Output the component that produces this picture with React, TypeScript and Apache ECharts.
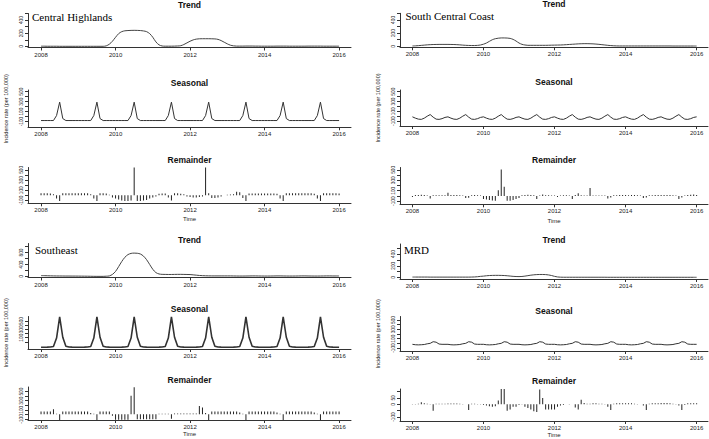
import React, { useEffect, useRef } from "react";
import * as echarts from "echarts";

// monthly time stamps 2008.0 .. 2016.0
const months: number[] = Array.from({ length: 97 }, (_, i) => 2008 + i / 12);
const yearTicks = [2008, 2010, 2012, 2014, 2016];

// ---------- Central Highlands ----------
const chTrend = [
  5, 5, 4, 4, 4, 4, 3, 3, 3, 3, 3, 3,
  3, 3, 3, 3, 3, 3, 3, 3, 3, 10, 35, 80,
  140, 195, 225, 238, 242, 244, 245, 244, 242, 236, 225, 195,
  140, 70, 25, 8, 5, 5, 5, 6, 8, 12, 30, 55,
  80, 100, 112, 117, 118, 118, 118, 117, 115, 108, 90, 65,
  40, 20, 10, 6, 6, 6, 7, 7, 7, 6, 6, 5,
  5, 5, 5, 5, 6, 6, 6, 6, 5, 5, 5, 5,
  5, 5, 6, 6, 6, 6, 6, 5, 5, 5, 5, 5,
  5,
];
const chSeasonal = [
  -80, -80, -80, -80, -80, 20, 290, -40, -80, -80, -80, -80,
  -80, -80, -80, -80, -80, 20, 290, -40, -80, -80, -80, -80,
  -80, -80, -80, -80, -80, 20, 290, -40, -80, -80, -80, -80,
  -80, -80, -80, -80, -80, 20, 290, -40, -80, -80, -80, -80,
  -80, -80, -80, -80, -80, 20, 290, -40, -80, -80, -80, -80,
  -80, -80, -80, -80, -80, 20, 290, -40, -80, -80, -80, -80,
  -80, -80, -80, -80, -80, 20, 290, -40, -80, -80, -80, -80,
  -80, -80, -80, -80, -80, 20, 290, -40, -80, -80, -80, -80,
  -80,
];
const chRemainder = [
  40, 40, 40, 35, 20, -60, -110, 40, 40, 40, 40, 40,
  40, 40, 40, 40, 20, -60, -110, 40, 40, 35, 10, -40,
  -60, -80, -100, -110, -110, -100, 570, -110, -110, -100, -90, -60,
  -40, -20, 30, 35, 35, -40, -100, 40, 40, 30, 20, -20,
  -30, -40, -40, -30, -20, 570, 40, -50, -50, -40, -20, 0,
  10, 15, 20, 70, 60, -50, -110, 35, 35, 35, 35, 35,
  35, 35, 35, 35, 30, -60, -110, 40, 40, 40, 40, 40,
  40, 40, 40, 40, 30, -60, -110, 40, 40, 40, 40, 40,
  35,
];

// ---------- South Central Coast ----------
const sccTrend = [
  5, 7, 10, 14, 18, 22, 25, 27, 28, 29, 29, 29,
  29, 28, 27, 25, 22, 18, 15, 13, 12, 12, 14, 20,
  32, 50, 75, 100, 115, 123, 127, 127, 125, 120, 105, 80,
  50, 30, 20, 15, 15, 15, 15, 15, 15, 15, 16, 17,
  18, 19, 20, 22, 25, 28, 31, 34, 37, 39, 40, 40,
  39, 37, 34, 30, 25, 20, 15, 11, 8, 6, 5, 5,
  5, 5, 5, 5, 5, 5, 5, 5, 5, 5, 5, 5,
  5, 5, 5, 5, 4, 4, 4, 4, 4, 4, 4, 4,
  4,
];
const sccSeasonal = [
  -13, -40, -60, -65, -40, 0, 33, -20, -60, -65, -50, -25,
  -13, -40, -60, -65, -40, 0, 33, -20, -60, -65, -50, -25,
  -13, -40, -60, -65, -40, 0, 33, -20, -60, -65, -50, -25,
  -13, -40, -60, -65, -40, 0, 33, -20, -60, -65, -50, -25,
  -13, -40, -60, -65, -40, 0, 33, -20, -60, -65, -50, -25,
  -13, -40, -60, -65, -40, 0, 33, -20, -60, -65, -50, -25,
  -13, -40, -60, -65, -40, 0, 33, -20, -60, -65, -50, -25,
  -13, -40, -60, -65, -40, 0, 33, -20, -60, -65, -50, -25,
  -13,
];
const sccRemainder = [
  -20, 20, 20, 25, 20, 10, -50, 15, 15, 15, 15, 15,
  60, 20, 20, 20, 15, 10, -40, -35, 15, 20, 15, 10,
  -60, -70, -80, -85, -90, 110, 506, 175, -90, -90, -80, -60,
  -40, 15, 20, 25, 20, 15, -60, 10, 30, 15, 15, 10,
  10, -20, 10, 15, 15, 10, -60, 20, 50, 15, 10, 10,
  150, 10, 10, 10, 10, 10, -50, -30, 15, 15, 20, 20,
  20, 15, 20, 20, 15, 10, -40, -30, 15, 15, 20, 20,
  20, 20, 20, 20, 15, 10, -60, -30, 10, 20, 25, 30,
  20,
];

// ---------- Southeast ----------
const seTrend = [
  30, 28, 25, 22, 20, 18, 17, 16, 15, 15, 14, 14,
  13, 12, 11, 10, 8, 6, 5, 5, 5, 10, 20, 70,
  170, 330, 500, 640, 730, 770, 780, 775, 750, 680, 560, 400,
  240, 130, 85, 72, 70, 68, 68, 70, 72, 72, 70, 68,
  65, 55, 45, 35, 28, 24, 22, 20, 20, 20, 20, 20,
  20, 20, 18, 16, 15, 15, 16, 18, 20, 20, 18, 16,
  15, 15, 16, 18, 20, 20, 18, 16, 15, 15, 16, 18,
  20, 20, 18, 16, 15, 15, 16, 18, 20, 20, 18, 18,
  18,
];
const seSeasonal = [
  -130, -130, -128, -124, -112, 90, 600, 110, -105, -125, -128, -130,
  -130, -130, -128, -124, -112, 90, 600, 110, -105, -125, -128, -130,
  -130, -130, -128, -124, -112, 90, 600, 110, -105, -125, -128, -130,
  -130, -130, -128, -124, -112, 90, 600, 110, -105, -125, -128, -130,
  -130, -130, -128, -124, -112, 90, 600, 110, -105, -125, -128, -130,
  -130, -130, -128, -124, -112, 90, 600, 110, -105, -125, -128, -130,
  -130, -130, -128, -124, -112, 90, 600, 110, -105, -125, -128, -130,
  -130, -130, -128, -124, -112, 90, 600, 110, -105, -125, -128, -130,
  -130,
];
const seRemainder = [
  60, 60, 60, 60, 110, 10, -125, 60, 60, 60, 60, 60,
  60, 60, 60, 60, 30, 10, -125, 60, 60, 60, 60, -30,
  -120, -120, -120, -120, -120, 410, 594, -110, -110, -110, -110, -110,
  -110, -110, 10, 10, 10, 10, -100, 20, 20, 20, 20, 20,
  20, 20, 20, 183, 150, 30, -125, 60, 60, 60, 60, 60,
  60, 60, 60, 60, 40, 10, -125, 60, 60, 60, 60, 60,
  60, 60, 60, 60, 40, 10, -125, 60, 60, 60, 60, 60,
  60, 60, 60, 60, 40, 10, -125, 60, 60, 60, 60, 60,
  60,
];

// ---------- MRD ----------
const mrdTrend = [
  8, 8, 8, 8, 8, 8, 7, 7, 7, 7, 7, 7,
  7, 7, 7, 7, 7, 7, 7, 7, 8, 10, 14, 20,
  24, 30, 34, 36, 37, 37, 36, 34, 30, 25, 20, 17,
  16, 18, 24, 32, 40, 46, 50, 52, 52, 50, 44, 34,
  20, 10, 6, 5, 5, 5, 5, 5, 5, 5, 5, 5,
  5, 5, 5, 5, 5, 5, 4, 4, 4, 4, 4, 4,
  4, 4, 4, 4, 4, 4, 4, 4, 4, 4, 4, 4,
  4, 4, 4, 4, 4, 4, 4, 4, 4, 4, 4, 4,
  4,
];
const mrdSeasonal = [
  -21, -30, -33, -30, -25, -10, 0, 35, 25, -15, -21, -21,
  -21, -30, -33, -30, -25, -10, 0, 35, 25, -15, -21, -21,
  -21, -30, -33, -30, -25, -10, 0, 35, 25, -15, -21, -21,
  -21, -30, -33, -30, -25, -10, 0, 35, 25, -15, -21, -21,
  -21, -30, -33, -30, -25, -10, 0, 35, 25, -15, -21, -21,
  -21, -30, -33, -30, -25, -10, 0, 35, 25, -15, -21, -21,
  -21, -30, -33, -30, -25, -10, 0, 35, 25, -15, -21, -21,
  -21, -30, -33, -30, -25, -10, 0, 35, 25, -15, -21, -21,
  -21,
];
const mrdRemainder = [
  2, 3, 5, 17, 8, 5, 3, -50, 5, 5, 5, 5,
  6, 6, 6, 6, 5, 3, 0, -45, 5, 5, 3, 2,
  -5, -10, -15, -20, -15, 30, 120, 120, -50, -40, -20, -20,
  -5, 3, -20, -30, -40, -55, -60, 117, 50, -40, -40, -40,
  -40, -20, -10, -5, 0, 2, 0, -25, -40, 35, 10, 5,
  5, 8, 8, 5, 5, 3, -20, -45, 5, 8, 8, 8,
  8, 8, 8, 5, 3, 0, -10, -45, 5, 8, 8, 8,
  10, 10, 10, 8, 5, 3, -10, -45, -5, 8, 8, 8,
  8,
];

// axis tick values / tick labels
const trendTicks = [0, 100, 200, 300, 400, 500];
const trendLabels = [0, 200, 400];
const seTrendTicks = [0, 200, 400, 600, 800, 1000];
const seTrendLabels = [0, 400, 800];
const seasTicks = [-100, 0, 100, 200, 300, 400, 500];
const seasLabels = [-100, 100, 300, 500];
const remTicks = [-100, 0, 100, 200, 300, 400, 500];
const remLabels = [-100, 100, 300, 500];
const mrdRemTicks = [-100, -50, 0, 50, 100];
const mrdRemLabels = [-100, 0, 50];

const regionNames = ["Central Highlands", "South Central Coast", "Southeast", "MRD"];
const yName = "Incidence rate (per 100,000)";

// ---------- layout (pixels) ----------
const COLS = [
  { left: 28, width: 323, cx: 189.5 },
  { left: 400, width: 308, cx: 554 },
];
const X_MIN = 2007.65;
const X_MAX = 2016.32;

type Panel = {
  col: number; top: number; h: number; yMin: number; yMax: number;
  ticks: number[]; labels: number[]; data: number[]; kind: "trend" | "line" | "bar";
  title: string; titleY: number; yName?: string; xName?: string; xNameGap?: number; lw?: number;
};

const panels: Panel[] = [
  { col: 0, top: 13.5, h: 34, yMin: -15, yMax: 500, ticks: trendTicks, labels: trendLabels, data: chTrend, kind: "trend", title: "Trend", titleY: 4.5 },
  { col: 0, top: 90, h: 37.3, yMin: -216, yMax: 534, ticks: seasTicks, labels: seasLabels, data: chSeasonal, kind: "line", title: "Seasonal", titleY: 83, yName },
  { col: 0, top: 167.5, h: 35.8, yMin: -155, yMax: 545, ticks: remTicks, labels: remLabels, data: chRemainder, kind: "bar", title: "Remainder", titleY: 160, xName: "Time", xNameGap: 12.5 },
  { col: 0, top: 243.5, h: 34, yMin: -33, yMax: 1100, ticks: seTrendTicks, labels: seTrendLabels, data: seTrend, kind: "trend", title: "Trend", titleY: 240 },
  { col: 0, top: 316.5, h: 32.5, yMin: -172, yMax: 608, ticks: seasTicks, labels: seasLabels, data: seSeasonal, kind: "line", title: "Seasonal", titleY: 309, yName, lw: 1.6 },
  { col: 0, top: 387, h: 33, yMin: -125, yMax: 600, ticks: remTicks, labels: remLabels, data: seRemainder, kind: "bar", title: "Remainder", titleY: 380, xName: "Time", xNameGap: 10.5 },
  { col: 1, top: 13.3, h: 34, yMin: -15, yMax: 500, ticks: trendTicks, labels: trendLabels, data: sccTrend, kind: "trend", title: "Trend", titleY: 3.5 },
  { col: 1, top: 90, h: 36, yMin: -200, yMax: 534, ticks: seasTicks, labels: seasLabels, data: sccSeasonal, kind: "line", title: "Seasonal", titleY: 82.3, yName },
  { col: 1, top: 167.5, h: 36.8, yMin: -160, yMax: 545, ticks: remTicks, labels: remLabels, data: sccRemainder, kind: "bar", title: "Remainder", titleY: 160, xName: "Time", xNameGap: 13.5 },
  { col: 1, top: 244, h: 35, yMin: -25, yMax: 570, ticks: trendTicks, labels: trendLabels, data: mrdTrend, kind: "trend", title: "Trend", titleY: 240 },
  { col: 1, top: 316.5, h: 34.5, yMin: -164, yMax: 575, ticks: seasTicks, labels: seasLabels, data: mrdSeasonal, kind: "line", title: "Seasonal", titleY: 310.7, yName },
  { col: 1, top: 389, h: 33.5, yMin: -131, yMax: 120, ticks: mrdRemTicks, labels: mrdRemLabels, data: mrdRemainder, kind: "bar", title: "Remainder", titleY: 381, xName: "Time", xNameGap: 11 },
];

const regionPos = [
  { x: 32, y: 17 },
  { x: 405.5, y: 16 },
  { x: 35, y: 250 },
  { x: 404, y: 250 },
];

const AXIS_COLOR = "#333";
const SANS = '"Liberation Sans", Arial, sans-serif';

function buildOption(): echarts.EChartsCoreOption {
  const grid = panels.map((p) => ({
    left: COLS[p.col].left, top: p.top, width: COLS[p.col].width, height: p.h,
  }));
  const xAxis = panels.map((p, i) => ({
    gridIndex: i, type: "value", min: X_MIN, max: X_MAX,
    axisLine: { show: true, onZero: false, lineStyle: { color: AXIS_COLOR, width: 1 } },
    axisTick: { show: true, customValues: yearTicks, length: 3, lineStyle: { color: AXIS_COLOR } },
    axisLabel: { customValues: yearTicks, fontSize: 6, color: "#222", margin: 4, fontFamily: SANS, formatter: (v: number) => String(Math.round(v)) },
    splitLine: { show: false },
    name: p.xName || "", nameLocation: "middle", nameGap: p.xNameGap || 10,
    nameTextStyle: { fontSize: 6, color: "#222", fontFamily: SANS, verticalAlign: "top" },
  }));
  const yAxis = panels.map((p, i) => ({
    gridIndex: i, type: "value", min: p.yMin, max: p.yMax,
    axisLine: { show: true, onZero: false, lineStyle: { color: AXIS_COLOR, width: 1 } },
    axisTick: { show: true, customValues: p.ticks, length: 3, lineStyle: { color: AXIS_COLOR } },
    axisLabel: { customValues: p.labels, fontSize: 4.8, color: "#222", rotate: 90, margin: 4, fontFamily: SANS },
    splitLine: { show: false },
    name: p.yName || "", nameLocation: "middle", nameGap: 19, nameRotate: 90,
    nameTextStyle: { fontSize: 5.5, color: "#222", fontFamily: SANS },
  }));
  const series = panels.map((p, i) => {
    const data = months.map((t, k) => [t, p.data[k]]);
    if (p.kind === "bar") {
      return {
        type: "bar", xAxisIndex: i, yAxisIndex: i, data, barWidth: 1,
        itemStyle: { color: "#222" }, silent: true,
      };
    }
    return {
      type: "line", xAxisIndex: i, yAxisIndex: i, data, symbol: "none", showSymbol: false,
      smooth: p.kind === "trend" ? 0.3 : false,
      lineStyle: { color: p.kind === "trend" ? "#444" : "#333", width: p.lw || 1 }, silent: true,
    };
  });
  const titleTexts = panels.map((p) => ({
    type: "text", x: COLS[p.col].cx, y: p.titleY, silent: true,
    style: { text: p.title, fill: "#111", font: `bold 8.5px ${SANS}`, align: "center", verticalAlign: "middle" },
  }));
  const regionTexts = regionNames.map((name, k) => ({
    type: "text", x: regionPos[k].x, y: regionPos[k].y, silent: true,
    style: { text: name, fill: "#000", font: '11px "Liberation Serif", "Times New Roman", serif', align: "left", verticalAlign: "middle" },
  }));
  return {
    animation: false,
    backgroundColor: "#fff",
    grid, xAxis, yAxis, series,
    graphic: [...titleTexts, ...regionTexts],
  };
}

export default function App() {
  const ref = useRef<HTMLDivElement>(null);
  useEffect(() => {
    if (!ref.current) return;
    const chart = echarts.init(ref.current, undefined, { renderer: "svg" });
    chart.setOption(buildOption());
    return () => chart.dispose();
  }, []);
  return (
    <div
      ref={ref}
      style={{ position: "fixed", left: 0, top: 0, width: 709, height: 439, background: "#fff" }}
    />
  );
}
